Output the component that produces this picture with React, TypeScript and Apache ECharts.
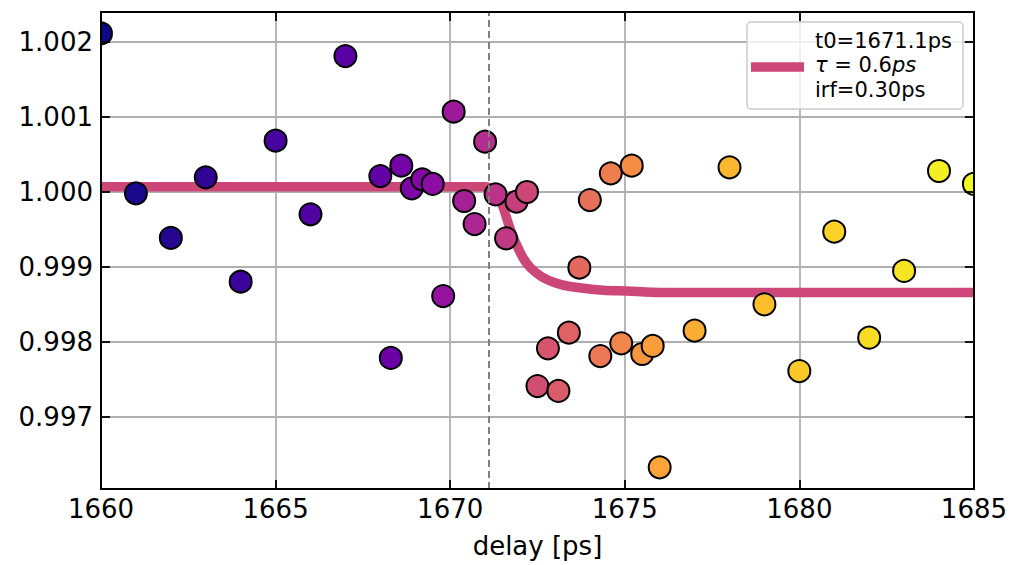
import React, { useEffect, useRef } from "react";
import * as echarts from "echarts";

// ---- data ----
const delays = [
  1660, 1661, 1662, 1663, 1664, 1665, 1666, 1667,
  1668.0, 1668.3, 1668.6, 1668.9, 1669.2, 1669.5, 1669.8, 1670.1, 1670.4, 1670.7,
  1671.0, 1671.3, 1671.6, 1671.9, 1672.2, 1672.5, 1672.8, 1673.1, 1673.4, 1673.7,
  1674.0, 1674.3, 1674.6, 1674.9, 1675.2, 1675.5, 1675.8,
  1676, 1677, 1678, 1679, 1680, 1681, 1682, 1683, 1684, 1685,
];
const signal = [
  1.002115, 0.999983, 0.999387, 1.000196, 0.998804, 1.000684, 0.999703, 1.001813,
  1.000213, 0.997787, 1.000351, 1.000049, 1.000169, 1.000107, 0.998613, 1.001071, 0.99988, 0.999573,
  1.000671, 0.999969, 0.999383, 0.999871, 1.0, 0.997413, 0.997916, 0.997347, 0.998124, 0.998991,
  0.999893, 0.997813, 1.000249, 0.997983, 1.000351, 0.99784, 0.997947,
  0.996329, 0.998151, 1.000329, 0.998503, 0.997613, 0.999471, 0.998057, 0.998947, 1.00028, 1.000107,
];
const fitDelays = [
  1660, 1671.0, 1671.15, 1671.25, 1671.35, 1671.43, 1671.53, 1671.68, 1671.86, 1672.09,
  1672.3, 1672.62, 1673.0, 1673.43, 1674.38, 1675.05, 1676, 1685,
];
const fitValues = [
  1.00007, 1.00007, 1.00005, 1.0, 0.99994, 0.99989, 0.99978, 0.99956, 0.99934, 0.99912,
  0.99899, 0.99887, 0.99879, 0.99874, 0.99869, 0.99868, 0.99866, 0.99866,
];
const t0 = 1671.1;
const legendLines = ["t0=1671.1ps", "0.6", "irf=0.30ps"];
const xTickStep = 5;
const xMin = 1660;
const xMax = 1685;
const yMin = 0.99604;
const yMax = 1.0024;

const PLASMA = [
  "#0d0887", "#41049d", "#6a00a8", "#8f0da4", "#b12a90", "#cc4778",
  "#e16462", "#f2844b", "#fca636", "#fcce25", "#f0f921",
];
function hexToRgb(h: string) {
  return [parseInt(h.slice(1, 3), 16), parseInt(h.slice(3, 5), 16), parseInt(h.slice(5, 7), 16)];
}
function plasma(t: number): string {
  const n = PLASMA.length - 1;
  const p = Math.min(Math.max(t, 0), 1) * n;
  const i = Math.min(Math.floor(p), n - 1);
  const f = p - i;
  const a = hexToRgb(PLASMA[i]);
  const b = hexToRgb(PLASMA[i + 1]);
  const c = a.map((v, k) => Math.round(v + (b[k] - v) * f));
  return `rgb(${c[0]},${c[1]},${c[2]})`;
}

const FONT = "DejaVu Sans";
const LINE_COLOR = "#cc4778";

export default function App() {
  const ref = useRef<HTMLDivElement>(null);
  useEffect(() => {
    if (!ref.current) return;
    const chart = echarts.init(ref.current, undefined, { renderer: "svg" });
    const points = delays.map((d, i) => [d, signal[i]]);
    const fit = fitDelays.map((d, i) => [d, fitValues[i]]);
    const n = points.length;

    const axisLine = { show: true, onZero: false, lineStyle: { color: "#000", width: 2 } };
    const axisTick = { show: true, inside: true, length: 9, lineStyle: { color: "#000", width: 1.8 } };
    const splitLine = { show: true, lineStyle: { color: "#b0b0b0", width: 1.8 } };
    const off = { show: false };

    const yFmt = (v: number) => {
      const r = Math.round(v * 1000) / 1000;
      return Math.abs(r - v) < 1e-7 ? r.toFixed(3) : "";
    };
    const xBase = { type: "value", min: xMin, max: xMax, interval: xTickStep };
    const yBase = { type: "value", min: yMin, max: yMax, splitNumber: 6 };

    chart.setOption({
      animation: false,
      backgroundColor: "#ffffff",
      textStyle: { fontFamily: FONT },
      grid: { left: 101, top: 12, width: 873, height: 477, containLabel: false },
      xAxis: [
        { ...xBase, position: "bottom", z: 0, axisLine: off, axisTick: off, axisLabel: off, splitLine },
        {
          ...xBase, position: "bottom", z: 10,
          name: "delay [ps]", nameLocation: "middle", nameGap: 44,
          nameTextStyle: { fontSize: 26, color: "#000", fontFamily: FONT },
          axisLine, axisTick, splitLine: off,
          axisLabel: { fontSize: 26, color: "#000", margin: 7, fontFamily: FONT, formatter: (v: number) => String(v) },
        },
        { ...xBase, position: "top", z: 10, axisLine, axisTick, splitLine: off, axisLabel: off },
      ],
      yAxis: [
        { ...yBase, position: "left", z: 0, axisLine: off, axisTick: off, axisLabel: off, splitLine },
        {
          ...yBase, position: "left", z: 10,
          axisLine, axisTick, splitLine: off,
          axisLabel: {
            fontSize: 26, color: "#000", margin: 8, fontFamily: FONT,
            formatter: yFmt, showMinLabel: false, showMaxLabel: false,
          },
        },
        { ...yBase, position: "right", z: 10, axisLine, axisTick, splitLine: off, axisLabel: off },
      ],
      series: [
        {
          type: "line", data: fit, showSymbol: false, symbol: "none",
          smooth: 0.25, clip: true, z: 2, xAxisIndex: 0, yAxisIndex: 0,
          lineStyle: { color: LINE_COLOR, width: 9.5, cap: "butt", join: "round" },
          emphasis: { disabled: true }, silent: true,
          markLine: {
            silent: true, symbol: ["none", "none"], label: { show: false },
            lineStyle: { color: "#808080", type: [7, 4], width: 2 },
            data: [{ xAxis: t0 }],
          },
        },
        {
          type: "scatter", data: points, symbol: "circle", symbolSize: 22, clip: false, z: 3,
          xAxisIndex: 0, yAxisIndex: 0,
          itemStyle: {
            color: (p: any) => plasma(p.dataIndex / (n - 1)),
            borderColor: "#000", borderWidth: 2, opacity: 1,
          },
          emphasis: { disabled: true }, silent: true,
        },
      ],
      graphic: [
        // white masks outside the plot area (clip the edge markers like the reference)
        { type: "rect", z: 5, silent: true, shape: { x: 0, y: 0, width: 100, height: 565 }, style: { fill: "#ffffff" } },
        { type: "rect", z: 5, silent: true, shape: { x: 975, y: 0, width: 35, height: 565 }, style: { fill: "#ffffff" } },
        {
          type: "rect", z: 100,
          shape: { x: 747, y: 22, width: 216, height: 87, r: 4 },
          style: { fill: "rgba(255,255,255,0.8)", stroke: "#cccccc", lineWidth: 1.5 },
        },
        {
          type: "line", z: 101,
          shape: { x1: 751, y1: 67, x2: 804, y2: 67 },
          style: { stroke: LINE_COLOR, lineWidth: 9.5 },
        },
        {
          type: "text", z: 101, x: 815, y: 41,
          style: { text: legendLines[0], fontSize: 21, fontFamily: FONT, fill: "#000", verticalAlign: "middle", align: "left" },
        },
        {
          type: "text", z: 101, x: 815, y: 65,
          style: {
            text: "{i|τ} = " + legendLines[1] + "{i|ps}",
            fontSize: 21, fontFamily: FONT, fill: "#000", verticalAlign: "middle", align: "left",
            rich: { i: { fontStyle: "italic", fontSize: 21, fontFamily: FONT, fill: "#000" } },
          },
        },
        {
          type: "text", z: 101, x: 815, y: 90,
          style: { text: legendLines[2], fontSize: 21, fontFamily: FONT, fill: "#000", verticalAlign: "middle", align: "left" },
        },
      ],
    });
    return () => chart.dispose();
  }, []);
  return (
    <div
      ref={ref}
      style={{ position: "absolute", left: 0, top: 0, width: 1010, height: 565 }}
    />
  );
}
